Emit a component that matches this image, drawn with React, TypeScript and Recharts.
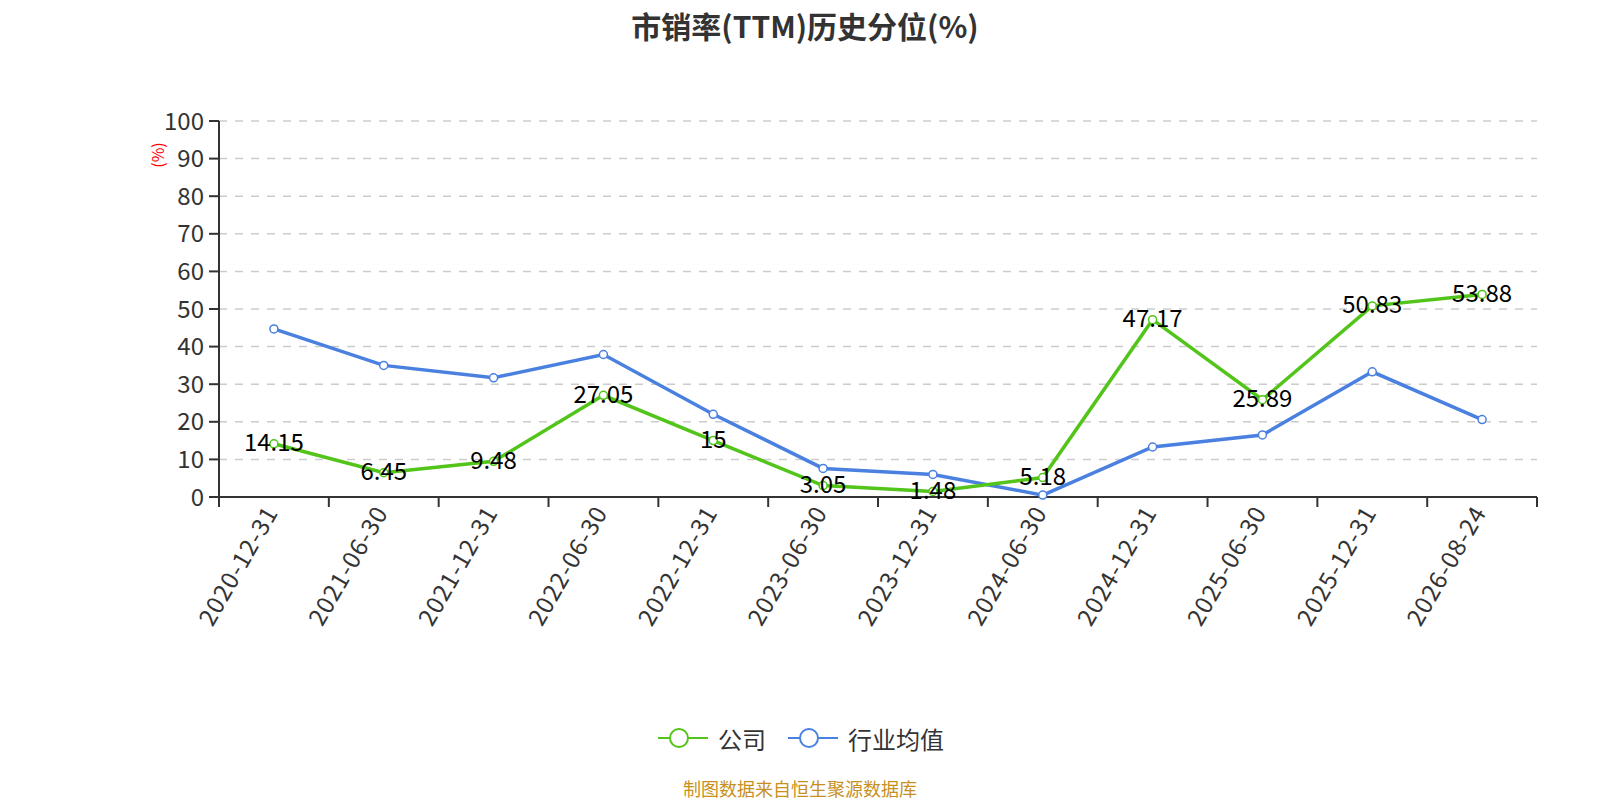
import React from 'react';
import { CartesianGrid, Line, LineChart, XAxis, YAxis, LabelList } from 'recharts';

const dates = [
  '2020-12-31', '2021-06-30', '2021-12-31', '2022-06-30', '2022-12-31', '2023-06-30',
  '2023-12-31', '2024-06-30', '2024-12-31', '2025-06-30', '2025-12-31', '2026-08-24'
];
const company = [14.15, 6.45, 9.48, 27.05, 15, 3.05, 1.48, 5.18, 47.17, 25.89, 50.83, 53.88];
const industry = [44.7, 35.0, 31.7, 37.9, 22.0, 7.6, 6.0, 0.5, 13.3, 16.5, 33.3, 20.6];
const yTicks = [0, 10, 20, 30, 40, 50, 60, 70, 80, 90, 100];

const GREEN = '#52c41a';
const BLUE = '#4a80e0';
const FONT = "'Noto Sans CJK SC', 'Noto Sans', sans-serif";
const HALF_BAND = 54.9;

const data = dates.map((d, i) => ({ date: d, company: company[i], industry: industry[i] }));

// category label plus the boundary tick marks between categories
const DateTick = (props: any) => {
  const { x, y, payload, index } = props;
  const last = index === dates.length - 1;
  const tx = x - 4;
  const ty = y + 10;
  return (
    <g>
      <line x1={x - HALF_BAND} y1={y} x2={x - HALF_BAND} y2={y + 10} stroke='#333' strokeWidth={2} />
      {last && <line x1={x + HALF_BAND} y1={y} x2={x + HALF_BAND} y2={y + 10} stroke='#333' strokeWidth={2} />}
      <text
        x={tx}
        y={ty}
        transform={`rotate(-60, ${tx}, ${ty})`}
        textAnchor='end'
        dominantBaseline='central'
        fontSize={24}
        letterSpacing={1}
        fill='#333'
        fontFamily={FONT}>
        {payload.value}
      </text>
    </g>
  );
};

const ValueLabel = (props: any) => {
  const { x, y, value } = props;
  return (
    <text x={x} y={y - 3} textAnchor='middle' dominantBaseline='central' fontSize={24} fill='#000' fontFamily={FONT}>
      {value}
    </text>
  );
};

const LegendIcon = ({ color }: { color: string }) => (
  <svg width={50} height={24} style={{ display: 'block' }}>
    <line x1={0} y1={12} x2={50} y2={12} stroke={color} strokeWidth={2} />
    <circle cx={21} cy={12} r={9} fill='#fff' stroke={color} strokeWidth={2} />
  </svg>
);

export default function App() {
  return (
    <div style={{ position: 'relative', width: 1600, height: 800, overflow: 'hidden', fontFamily: FONT }}>
      <style>{'html,body{margin:0;padding:0;overflow:hidden}'}</style>
      <div
        style={{
          position: 'absolute',
          top: 3,
          left: 0,
          width: 1610,
          textAlign: 'center',
          fontSize: 30,
          fontWeight: 'bold',
          color: '#333'
        }}>
        市销率(TTM)历史分位(%)
      </div>
      <LineChart width={1600} height={800} data={data} margin={{ top: 121, right: 63, bottom: 173, left: 159 }}>
        <CartesianGrid horizontal vertical={false} stroke='#ccc' strokeWidth={1.5} strokeDasharray='8 8' />
        <XAxis
          dataKey='date'
          padding={{ left: HALF_BAND, right: HALF_BAND }}
          tick={<DateTick />}
          tickLine={false}
          tickSize={0}
          tickMargin={0}
          axisLine={{ stroke: '#333', strokeWidth: 2 }}
          interval={0}
          height={130}
        />
        <YAxis
          domain={[0, 100]}
          ticks={yTicks}
          width={60}
          interval={0}
          tick={{ fontSize: 24, fill: '#333', fontFamily: FONT }}
          tickLine={{ stroke: '#333', strokeWidth: 2 }}
          tickSize={10}
          tickMargin={5}
          axisLine={{ stroke: '#333', strokeWidth: 2 }}
          label={{
            content: ({ viewBox }: any) => (
              <text
                x={viewBox.x - 2}
                y={viewBox.y + 34}
                transform={`rotate(-90, ${viewBox.x - 2}, ${viewBox.y + 34})`}
                textAnchor='middle'
                dominantBaseline='central'
                fontSize={16}
                fill='#ff0000'
                fontFamily={FONT}>
                (%)
              </text>
            )
          }}
        />
        <Line
          type='linear'
          dataKey='industry'
          stroke={BLUE}
          strokeWidth={3.5}
          dot={{ r: 4, fill: '#fff', stroke: BLUE, strokeWidth: 1.5 }}
          activeDot={false}
          isAnimationActive={false}
        />
        <Line
          type='linear'
          dataKey='company'
          stroke={GREEN}
          strokeWidth={3.5}
          dot={{ r: 4, fill: '#fff', stroke: GREEN, strokeWidth: 1.5 }}
          activeDot={false}
          isAnimationActive={false}>
          <LabelList dataKey='company' content={<ValueLabel />} />
        </Line>
      </LineChart>
      <div
        style={{
          position: 'absolute',
          top: 724,
          left: 658,
          height: 28,
          display: 'flex',
          alignItems: 'center',
          fontSize: 24,
          color: '#333',
          whiteSpace: 'nowrap'
        }}>
        <LegendIcon color={GREEN} />
        <span style={{ marginLeft: 10, marginRight: 22 }}>公司</span>
        <LegendIcon color={BLUE} />
        <span style={{ marginLeft: 10 }}>行业均值</span>
      </div>
      <div
        style={{
          position: 'absolute',
          top: 775,
          left: 0,
          width: 1600,
          textAlign: 'center',
          fontSize: 18,
          lineHeight: '26px',
          color: '#c8901e'
        }}>
        制图数据来自恒生聚源数据库
      </div>
    </div>
  );
}
